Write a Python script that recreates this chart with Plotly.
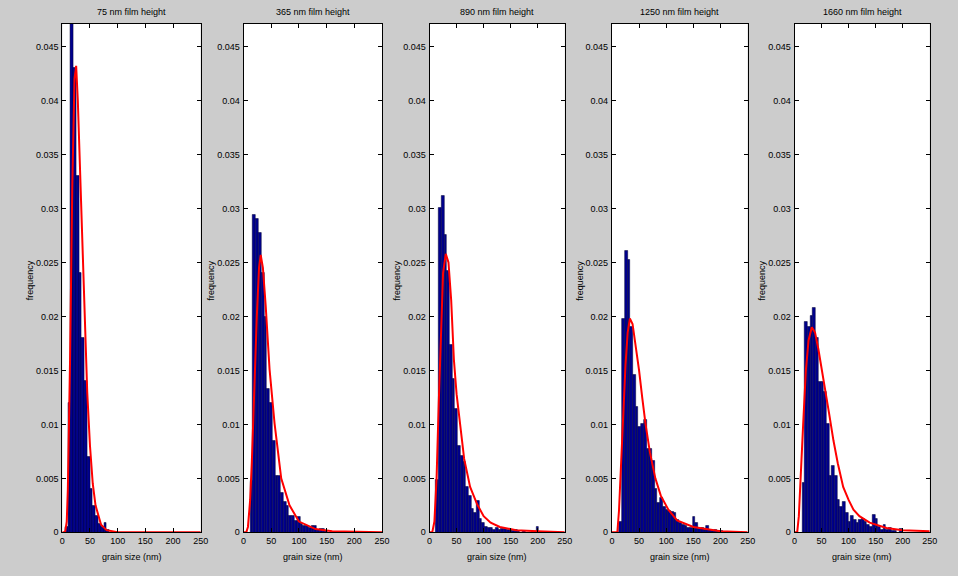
import plotly.graph_objects as go

# ---------------- data ----------------
TITLES = ["75 nm film height", "365 nm film height", "890 nm film height",
          "1250 nm film height", "1660 nm film height"]
X_LABEL = "grain size (nm)"
Y_LABEL = "frequency"
X_TICKS = [0, 50, 100, 150, 200, 250]
Y_TICKS = [0, 0.005, 0.01, 0.015, 0.02, 0.025, 0.03, 0.035, 0.04, 0.045]
Y_TICK_TEXT = ["0", "0.005", "0.01", "0.015", "0.02", "0.025", "0.03", "0.035", "0.04", "0.045"]

BIN_WIDTH = 5
BIN_START = [5, 12, 12, 13.7, 14]

FREQ_75 = [0.0005, 0.012, 0.049, 0.043, 0.033, 0.024, 0.018, 0.014, 0.007, 0.004,
           0.0025, 0.0015, 0.0008, 0.0005, 0.0009, 0.0002]
FREQ_365 = [0.0048, 0.0294, 0.0290, 0.0277, 0.024, 0.020, 0.0133, 0.012, 0.0085, 0.0052,
            0.0052, 0.0037, 0.0028, 0.0025, 0.0015, 0.0015, 0.0011, 0.0014, 0.0008, 0.0006,
            0.0006, 0.0004, 0.0006, 0.0006, 0.0002, 0.0003, 0.0003, 0.0001]
FREQ_890 = [0.0049, 0.0301, 0.0312, 0.0276, 0.0242, 0.0174, 0.0142, 0.0114, 0.008, 0.0071,
            0.0065, 0.0042, 0.0034, 0.0022, 0.0018, 0.0029, 0.0013, 0.0009, 0.0005, 0.0004,
            0.0004, 0.0002, 0.0004, 0.0002, 0.0003, 0.0003, 0.0002, 0.0002, 0.0001, 0.0002,
            0.0001, 0.0, 0.0001, 0.0, 0.0, 0.0, 0.0, 0.0005]
FREQ_1250 = [0.001, 0.0198, 0.0261, 0.0252, 0.019, 0.0146, 0.0116, 0.0098, 0.0101, 0.0104,
             0.0077, 0.0077, 0.0066, 0.004, 0.0027, 0.0032, 0.0024, 0.0021, 0.002, 0.0019,
             0.0018, 0.0012, 0.0009, 0.0007, 0.0006, 0.0004, 0.0004, 0.0014, 0.0009, 0.0003,
             0.0004, 0.0002, 0.0006, 0.0002, 0.0001, 0.0002, 0.0001, 0.0001]
FREQ_1660 = [0.0046, 0.0195, 0.019, 0.0201, 0.0208, 0.018, 0.0139, 0.0139, 0.013, 0.0101,
             0.0052, 0.0062, 0.0052, 0.003, 0.0024, 0.0028, 0.0018, 0.001, 0.0015, 0.0012,
             0.0009, 0.0012, 0.0013, 0.001, 0.0007, 0.0005, 0.0016, 0.0013, 0.0005, 0.0002,
             0.0007, 0.0002, 0.0004, 0.0001, 0.0001, 0.0, 0.0003]

FIT_X_75 = [0, 5, 8, 10, 14, 18, 22, 25, 28, 31, 35, 40, 45, 50, 55, 60, 70, 80, 100, 250]
FIT_Y_75 = [0, 0, 0.001, 0.004, 0.016, 0.032, 0.042, 0.0432, 0.040, 0.035, 0.028, 0.020,
            0.013, 0.008, 0.0045, 0.0025, 0.0007, 0.0002, 0, 0]
FIT_X_365 = [0, 5, 8, 12, 15, 20, 24, 28, 31, 35, 40, 47, 56, 68, 83, 100, 130, 160, 250]
FIT_Y_365 = [0, 0, 0.0005, 0.003, 0.0065, 0.015, 0.020, 0.0245, 0.0257, 0.0245, 0.021,
             0.0151, 0.0101, 0.005, 0.0025, 0.001, 0.0003, 0.0001, 0]
FIT_X_890 = [0, 5, 9, 13, 17, 21, 25, 30, 35, 40, 45, 50, 56, 64, 75, 88, 100, 113, 130, 160, 200, 250]
FIT_Y_890 = [0, 0, 0.001, 0.005, 0.012, 0.019, 0.024, 0.0258, 0.025, 0.0215, 0.016, 0.0128,
             0.0100, 0.0068, 0.0042, 0.0026, 0.0015, 0.0009, 0.0005, 0.0002, 0.0001, 0]
FIT_X_1250 = [0, 10, 13, 17, 21, 25, 29, 33, 38, 44, 50, 56, 62, 70, 80, 90, 104, 120, 150, 200, 250]
FIT_Y_1250 = [0, 0, 0.002, 0.007, 0.0115, 0.0155, 0.0185, 0.0198, 0.0193, 0.0172, 0.015,
              0.0124, 0.0100, 0.0074, 0.005, 0.0034, 0.0021, 0.0011, 0.0005, 0.0001, 0]
FIT_X_1660 = [0, 5, 8, 11, 16, 21, 26, 32, 38, 44, 50, 57, 64, 72, 80, 90, 100, 109, 120, 139, 170, 200, 250]
FIT_Y_1660 = [0, 0, 0.0015, 0.005, 0.010, 0.015, 0.0178, 0.019, 0.0185, 0.0170, 0.0153,
              0.0133, 0.011, 0.0085, 0.0064, 0.0042, 0.003, 0.0021, 0.0015, 0.0009, 0.0004,
              0.0002, 0.0001]

FREQS = [FREQ_75, FREQ_365, FREQ_890, FREQ_1250, FREQ_1660]
FITS = [(FIT_X_75, FIT_Y_75), (FIT_X_365, FIT_Y_365), (FIT_X_890, FIT_Y_890),
        (FIT_X_1250, FIT_Y_1250), (FIT_X_1660, FIT_Y_1660)]

# ---------------- layout / style ----------------
W, H = 958, 576
PANEL_PX = [(60, 200), (243.3, 383.5), (431.5, 568.3), (616, 753.3), (800.7, 937.5)]
TOP_PX, BOT_PX = 24, 537
Y_MAX = 0.0471
FONT = "Liberation Sans Narrow, Liberation Sans, Arial, sans-serif"
BG = "#cccccc"
BAR_COLOR = "#00008f"

fig = go.Figure()
annotations = []
layout = {}
ydom = [(H - BOT_PX) / H, (H - TOP_PX) / H]

for i in range(5):
    sfx = "" if i == 0 else str(i + 1)
    xa, ya = "x" + sfx, "y" + sfx
    freq = FREQS[i]
    edges = [BIN_START[i] + k * BIN_WIDTH for k in range(len(freq))]
    fig.add_trace(go.Bar(x=edges, y=freq, width=BIN_WIDTH, offset=0,
                         marker=dict(color=BAR_COLOR, line=dict(color="#000030", width=0.5)),
                         xaxis=xa, yaxis=ya, showlegend=False))
    fx, fy = FITS[i]
    fig.add_trace(go.Scatter(x=fx, y=fy, mode="lines",
                             line=dict(color="#ff0000", width=2),
                             xaxis=xa, yaxis=ya, showlegend=False))
    x0, x1 = PANEL_PX[i]
    layout["xaxis" + sfx] = dict(
        domain=[x0 / W, x1 / W], range=[0, 250], anchor=ya,
        tickvals=X_TICKS, ticks="inside", ticklen=4, tickcolor="black",
        showline=True, linecolor="black", linewidth=1, mirror="ticks",
        showgrid=False, zeroline=False, fixedrange=True,
        tickfont=dict(family=FONT, size=9, color="black"))
    layout["yaxis" + sfx] = dict(
        domain=ydom, range=[0, Y_MAX], anchor=xa,
        tickvals=Y_TICKS, ticktext=Y_TICK_TEXT, ticks="inside", ticklen=4, tickcolor="black",
        showline=True, linecolor="black", linewidth=1, mirror="ticks",
        showgrid=False, zeroline=False, fixedrange=True, ticklabelstandoff=1,
        tickfont=dict(family=FONT, size=9, color="black"))
    cx = (x0 + x1) / 2 / W
    annotations.append(dict(text=TITLES[i], x=cx, y=(H - 12) / H, xref="paper", yref="paper",
                            showarrow=False, xanchor="center", yanchor="middle",
                            font=dict(family=FONT, size=9, color="black")))
    annotations.append(dict(text=X_LABEL, x=cx, y=(H - 562) / H, xref="paper", yref="paper",
                            showarrow=False, xanchor="center", yanchor="middle",
                            font=dict(family=FONT, size=9, color="black")))
    annotations.append(dict(text=Y_LABEL, x=(x0 - 33) / W, y=(H - 283) / H, xref="paper",
                            yref="paper", showarrow=False, textangle=-90,
                            xanchor="center", yanchor="middle",
                            font=dict(family=FONT, size=9, color="black")))

fig.update_layout(width=W, height=H, margin=dict(l=0, r=0, t=0, b=0),
                  paper_bgcolor=BG, plot_bgcolor="white", bargap=0, barmode="overlay",
                  annotations=annotations, showlegend=False, **layout)

fig.write_html("out.html")
